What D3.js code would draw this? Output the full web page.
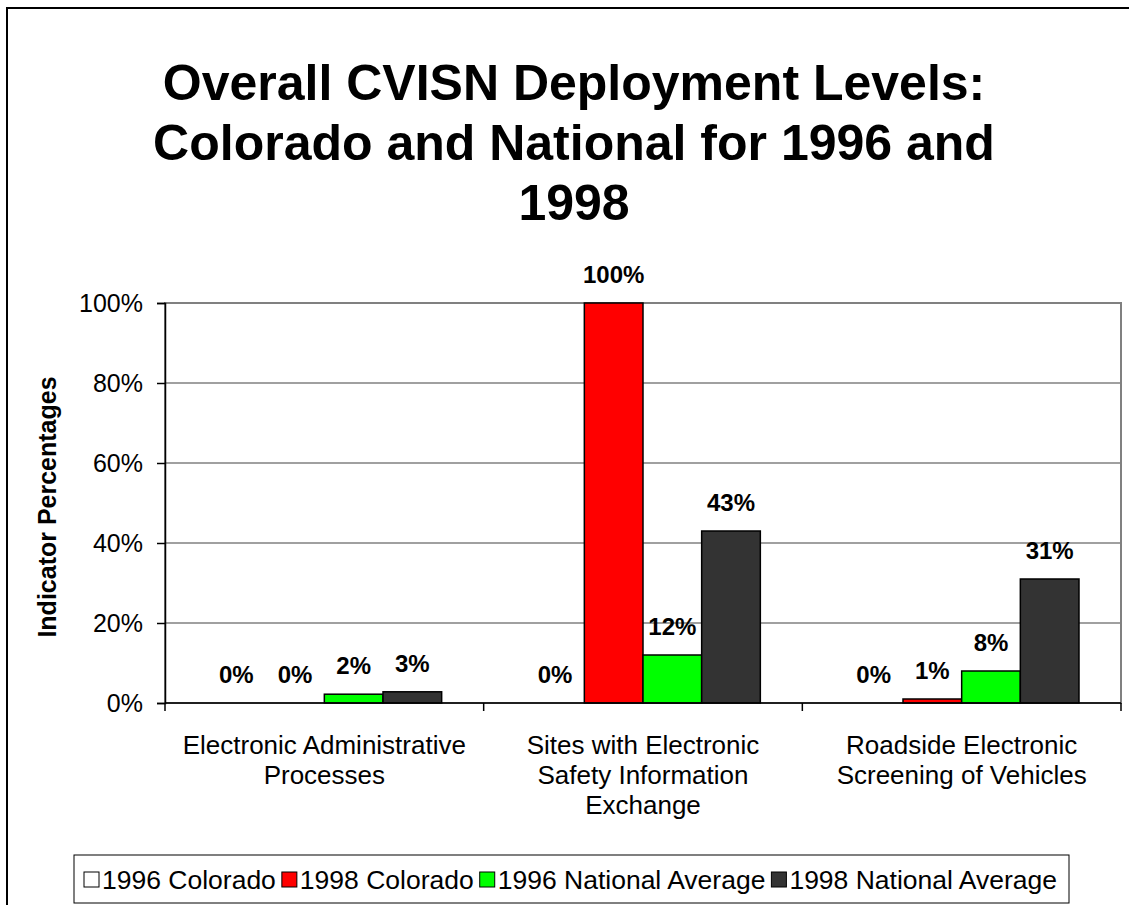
<!DOCTYPE html>
<html>
<head>
<meta charset="utf-8">
<title>CVISN deployment</title>
<style>
  body { margin: 0; background: #fff; }
  text { font-family: Arial, "Liberation Sans", sans-serif; }
</style>
</head>
<body>
<svg width="1129" height="905"></svg>
<script src="https://cdnjs.cloudflare.com/ajax/libs/d3/7.8.5/d3.min.js"></script>
<script>
// chart data
var categories = [
  ["Electronic Administrative", "Processes"],
  ["Sites with Electronic", "Safety Information", "Exchange"],
  ["Roadside Electronic", "Screening of Vehicles"]
];
var seriesNames = ["1996 Colorado", "1998 Colorado", "1996 National Average", "1998 National Average"];
var seriesColors = ["#ffffff", "#ff0000", "#00ff00", "#333333"];
var colorado1996 = [0, 0, 0];
var colorado1998 = [0, 1.0, 0.01];
var national1996 = [0.022, 0.12, 0.08];
var national1998 = [0.028, 0.43, 0.31];
var yTicks = [0, 0.2, 0.4, 0.6, 0.8, 1.0];
var titleLines = ["Overall CVISN Deployment Levels:", "Colorado and National for 1996 and", "1998"];

var series = [colorado1996, colorado1998, national1996, national1998];

var svg = d3.select("svg");

// outer chart border (right and bottom are off the picture)
svg.append("rect")
    .attr("x", 7).attr("y", 8)
    .attr("width", 1140).attr("height", 920)
    .attr("fill", "none")
    .attr("stroke", "#000")
    .attr("stroke-width", 2);

// title
svg.append("g").selectAll("text")
    .data(titleLines)
  .enter().append("text")
    .attr("x", 574)
    .attr("y", function(d, i) { return 100 + i * 60; })
    .attr("text-anchor", "middle")
    .style("font-size", "50px")
    .style("font-weight", "bold")
    .text(function(d) { return d; });

var plot = {left: 165, right: 1121, top: 303, bottom: 703};

var y = d3.scaleLinear().domain([0, 1]).range([plot.bottom, plot.top]);
var x0 = d3.scaleBand().domain(d3.range(categories.length)).range([plot.left, plot.right]);
var x1 = d3.scaleBand().domain(d3.range(series.length))
    .range([42, x0.bandwidth() - 42]);

// plot area + gridlines
svg.append("rect")
    .attr("x", plot.left).attr("y", plot.top)
    .attr("width", plot.right - plot.left).attr("height", plot.bottom - plot.top)
    .attr("fill", "#fff")
    .attr("stroke", "#808080")
    .attr("stroke-width", 2);

svg.append("g").selectAll("line")
    .data(yTicks.slice(1))
  .enter().append("line")
    .attr("x1", plot.left).attr("x2", plot.right)
    .attr("y1", function(d) { return y(d); })
    .attr("y2", function(d) { return y(d); })
    .attr("stroke", "#808080")
    .attr("stroke-width", 1.5);

// bars
var groups = svg.append("g").selectAll("g")
    .data(categories)
  .enter().append("g")
    .attr("transform", function(d, i) { return "translate(" + x0(i) + ",0)"; });

groups.selectAll("rect")
    .data(function(d, i) { return series.map(function(s, k) { return {k: k, v: s[i]}; }); })
  .enter().append("rect")
    .attr("x", function(d) { return x1(d.k); })
    .attr("width", x1.bandwidth())
    .attr("y", function(d) { return y(d.v); })
    .attr("height", function(d) { return plot.bottom - y(d.v); })
    .attr("fill", function(d) { return seriesColors[d.k]; })
    .attr("stroke", "#000")
    .attr("stroke-width", 1.5);

groups.selectAll("text.val")
    .data(function(d, i) { return series.map(function(s, k) { return {k: k, v: s[i]}; }); })
  .enter().append("text")
    .attr("class", "val")
    .attr("x", function(d) { return x1(d.k) + x1.bandwidth() / 2; })
    .attr("y", function(d) { return y(d.v) - 20; })
    .attr("text-anchor", "middle")
    .style("font-size", "24px")
    .style("font-weight", "bold")
    .text(function(d) { return d3.format(".0%")(d.v); });

// y axis
var yAxis = svg.append("g")
    .attr("transform", "translate(" + plot.left + ",0)")
    .call(d3.axisLeft(y).tickValues(yTicks).tickFormat(d3.format(".0%")).tickSize(8).tickPadding(14));
yAxis.select(".domain").attr("stroke", "#000").attr("stroke-width", 1.5);
yAxis.selectAll(".tick line").attr("stroke", "#000").attr("stroke-width", 1.5);
yAxis.selectAll(".tick text")
    .style("font-size", "25px")
    .attr("fill", "#000")
    .style("font-family", "Arial, 'Liberation Sans', sans-serif");

svg.append("text")
    .attr("transform", "translate(56,507) rotate(-90)")
    .attr("text-anchor", "middle")
    .style("font-size", "25px")
    .style("font-weight", "bold")
    .text("Indicator Percentages");

// x axis
svg.append("line")
    .attr("x1", plot.left).attr("x2", plot.right)
    .attr("y1", plot.bottom).attr("y2", plot.bottom)
    .attr("stroke", "#000").attr("stroke-width", 1.5);

svg.append("g").selectAll("line")
    .data(d3.range(categories.length + 1))
  .enter().append("line")
    .attr("x1", function(i) { return plot.left + i * x0.bandwidth(); })
    .attr("x2", function(i) { return plot.left + i * x0.bandwidth(); })
    .attr("y1", plot.bottom).attr("y2", plot.bottom + 8)
    .attr("stroke", "#000").attr("stroke-width", 1.5);

groups.each(function(lines) {
  d3.select(this).selectAll("text.cat")
      .data(lines)
    .enter().append("text")
      .attr("class", "cat")
      .attr("x", x0.bandwidth() / 2)
      .attr("y", function(d, j) { return 754 + j * 30; })
      .attr("text-anchor", "middle")
      .style("font-size", "26px")
      .text(function(d) { return d; });
});

// legend
var legend = svg.append("g");
legend.append("rect")
    .attr("x", 74).attr("y", 855)
    .attr("width", 995).attr("height", 48)
    .attr("fill", "#fff")
    .attr("stroke", "#000")
    .attr("stroke-width", 1);

var lx = 84;
seriesNames.forEach(function(name, k) {
  legend.append("rect")
      .attr("x", lx).attr("y", 872)
      .attr("width", 15).attr("height", 15)
      .attr("fill", seriesColors[k])
      .attr("stroke", "#000")
      .attr("stroke-width", 1);
  var t = legend.append("text")
      .attr("x", lx + 18).attr("y", 889)
      .style("font-size", "26.5px")
      .text(name);
  lx += 18 + t.node().getComputedTextLength() + 6;
});
</script>
</body>
</html>
